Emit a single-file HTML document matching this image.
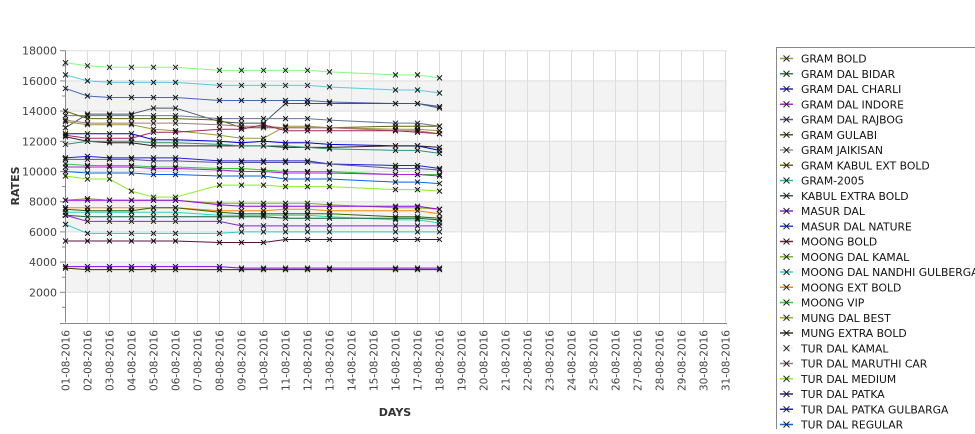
<!DOCTYPE html>
<html><head><meta charset="utf-8"><style>
body{margin:0;background:#fff;width:975px;height:429px;overflow:hidden;font-family:"Liberation Sans","DejaVu Sans",sans-serif}
</style></head><body>
<svg id="chart" width="975" height="429" xmlns="http://www.w3.org/2000/svg" style="font-family:'DejaVu Sans','Liberation Sans',sans-serif"></svg>
<script>
const dayLabels = ["01-08-2016","02-08-2016","03-08-2016","04-08-2016","05-08-2016","06-08-2016","07-08-2016","08-08-2016","09-08-2016","10-08-2016","11-08-2016","12-08-2016","13-08-2016","14-08-2016","15-08-2016","16-08-2016","17-08-2016","18-08-2016","19-08-2016","20-08-2016","21-08-2016","22-08-2016","23-08-2016","24-08-2016","25-08-2016","26-08-2016","27-08-2016","28-08-2016","29-08-2016","30-08-2016","31-08-2016"];
const dataDays = [0,1,2,3,4,5,7,8,9,10,11,12,15,16,17];
const yTicks = [2000,4000,6000,8000,10000,12000,14000,16000,18000];
const legendNames = ["GRAM BOLD","GRAM DAL BIDAR","GRAM DAL CHARLI","GRAM DAL INDORE","GRAM DAL RAJBOG","GRAM GULABI","GRAM JAIKISAN","GRAM KABUL EXT BOLD","GRAM-2005","KABUL EXTRA BOLD","MASUR DAL","MASUR DAL NATURE","MOONG BOLD","MOONG DAL KAMAL","MOONG DAL NANDHI GULBERGA","MOONG EXT BOLD","MOONG VIP","MUNG DAL BEST","MUNG EXTRA BOLD","TUR DAL KAMAL","TUR DAL MARUTHI CAR","TUR DAL MEDIUM","TUR DAL PATKA","TUR DAL PATKA GULBARGA","TUR DAL REGULAR"];
const legendColors = ["#999933","#228844","#2222dd","#aa22dd","#555599","#446600","#8899aa","#776600","#22bb99","#445566","#8822ee","#2244ee","#662244","#77bb22","#22ddbb","#ff8800","#33cc33","#99bb00","#333322","#eeeeee","#aa7777","#88ee22","#222288","#2222ee","#0066ee"];
const s1 = [17200,17000,16900,16900,16900,16900,16700,16700,16700,16700,16700,16600,16400,16400,16200];
const s2 = [16400,16000,15900,15900,15900,15900,15700,15700,15700,15700,15700,15600,15400,15400,15200];
const s3 = [15500,15000,14900,14900,14900,14900,14700,14700,14700,14700,14700,14600,14500,14500,14200];
const s4 = [12900,13800,13800,13800,14200,14200,13300,13200,13200,14500,14500,14500,14500,14500,14300];
const s5 = [13700,13700,13700,13700,13700,13700,13500,13500,13500,13500,13500,13400,13200,13200,13000];
const s6 = [14000,13500,13500,13500,13500,13500,13400,12900,12900,12900,12900,12900,13000,13000,13000];
const s7 = [13300,13100,13100,13100,12800,12700,12400,12200,12200,13000,13000,12900,12800,12800,12700];
const s8 = [13400,13200,13200,13200,13200,13200,13100,13000,13000,12900,12900,12900,12700,12700,12500];
const s9 = [12400,12200,12200,12200,12600,12600,12800,12800,13100,12700,12700,12700,12700,12600,12500];
const s10 = [12500,12500,12500,12500,12100,12100,12000,11900,12000,11900,11900,11800,11700,11700,11400];
const s11 = [12300,12000,11900,11900,11700,11700,11700,11700,11700,11600,11600,11600,11700,11700,11600];
const s12 = [11800,12000,12000,12000,11900,11900,11800,11700,11700,11700,11600,11500,11400,11400,11200];
const s13 = [10900,11000,10900,10900,10900,10900,10700,10700,10700,10700,10700,10500,10400,10400,10200];
const s14 = [10800,10800,10800,10800,10700,10700,10600,10600,10600,10600,10600,10500,10200,10200,10100];
const s15 = [10500,10400,10400,10400,10300,10300,10200,10200,10100,10000,10000,10000,9800,9800,9800];
const s16 = [10300,10300,10300,10300,10200,10200,10100,10000,10000,9900,9900,9900,9800,9800,9700];
const s17 = [10000,9900,9900,9900,9800,9800,9700,9700,9700,9500,9500,9500,9300,9300,9200];
const s18 = [9700,9500,9500,8700,8300,8300,9100,9100,9100,9000,9000,9000,8800,8800,8700];
const s19 = [8100,8200,8100,8100,8100,8100,7900,7900,7900,7900,7900,7800,7600,7600,7500];
const s20 = [8100,8100,8100,8100,8100,8100,7800,7700,7700,7700,7700,7700,7700,7700,7500];
const s21 = [7600,7600,7600,7600,7600,7600,7400,7400,7400,7500,7500,7400,7400,7400,7200];
const s22 = [7500,7400,7400,7400,7600,7600,7300,7200,7200,7200,7200,7200,7000,7000,6900];
const s23 = [7300,7300,7300,7300,7300,7300,7100,7100,7100,7100,7100,7000,6800,6800,6600];
const s24 = [7100,7000,7000,7000,7000,7000,7000,7000,7000,6900,6900,6900,6900,6900,6800];
const s25 = [7100,6700,6700,6700,6700,6700,6700,6400,6400,6400,6400,6400,6400,6400,6400];
const s26 = [6500,5900,5900,5900,5900,5900,5900,6000,6000,6000,6000,6000,6000,6000,6000];
const s27 = [5400,5400,5400,5400,5400,5400,5300,5300,5300,5500,5500,5500,5500,5500,5500];
const s28 = [3700,3700,3700,3700,3700,3700,3700,3600,3600,3600,3600,3600,3600,3600,3600];
const s29 = [3600,3500,3500,3500,3500,3500,3500,3500,3500,3500,3500,3500,3500,3500,3500];
const seriesValues = [s1,s2,s3,s4,s5,s6,s7,s8,s9,s10,s11,s12,s13,s14,s15,s16,s17,s18,s19,s20,s21,s22,s23,s24,s25,s26,s27,s28,s29];
const seriesColors = ["#80ff80","#55ccdd","#4466bb","#445566","#667799","#666600","#999933","#aa7777","#aa2266","#0000dd","#332222","#229977","#2222dd","#555599","#33cc33","#aa22dd","#0066ee","#88ee22","#88aa22","#9900ee","#ff8800","#336600","#22ddbb","#116633","#8822dd","#22cccc","#551144","#8800ee","#333300"];

const NS="http://www.w3.org/2000/svg";
const svg=document.getElementById('chart');
const L=65.5,R=727,T=50.7,B=322.5;
const x=d=>L+d*22;
const y=v=>B-v*(B-50.7)/18000;
function mk(tag,attrs,parent){const e=document.createElementNS(NS,tag);for(const k in attrs)e.setAttribute(k,attrs[k]);(parent||svg).appendChild(e);return e;}

const plot=mk('g',{});


mk('rect',{x:L,y:T,width:R-L,height:B-T,fill:'#fff'},plot);
for(let i=0;i<yTicks.length-1;i+=2){
  const b=mk('rect',{x:L,y:y(yTicks[i]+2000),width:R-L,height:y(yTicks[i])-y(yTicks[i]+2000),fill:'#f3f3f3'},plot);
  
  
}
yTicks.forEach(v=>{mk('line',{x1:L,x2:R,y1:y(v),y2:y(v),stroke:'#dddddd','stroke-width':1},plot);});
dayLabels.forEach((d,i)=>{mk('line',{x1:x(i),x2:x(i),y1:T,y2:B,stroke:'#dddddd','stroke-width':1},plot);});
mk('line',{x1:L,x2:L,y1:T,y2:B,stroke:'#888'});
mk('line',{x1:60,x2:R,y1:B+1,y2:B+1,stroke:'#888'});
for(let v=1000;v<=18000;v+=1000){mk('line',{x1:v%2000?62:60,x2:L,y1:y(v),y2:y(v),stroke:'#888'});}
yTicks.forEach(v=>{
  const t=mk('text',{x:57,y:y(v)+4,'text-anchor':'end','font-size':11,fill:'#444'});
  t.textContent=v;
  
  
});
dayLabels.forEach((d,i)=>{
  const t=mk('text',{x:0,y:0,'text-anchor':'end','font-size':10.5,fill:'#444',transform:`translate(${x(i)+4},330) rotate(-90)`});
  t.textContent=d;
  
  
});
const yt=mk('text',{x:0,y:0,'text-anchor':'middle','font-size':11,'font-weight':'bold',fill:'#333',transform:'translate(19,186) rotate(-90)'});
yt.textContent='RATES';


const xt=mk('text',{x:395,y:416,'text-anchor':'middle','font-size':11,'font-weight':'bold',fill:'#333'});
xt.textContent='DAYS';



seriesValues.forEach((vals,si)=>{
  const g=mk('g',{});
  
  
  const pts=vals.map((v,i)=>x(dataDays[i])+','+y(v)).join(' ');
  mk('polyline',{points:pts,fill:'none',stroke:seriesColors[si],'stroke-width':1},g);
  vals.forEach((v,i)=>{
    const cx=x(dataDays[i]),cy=y(v);
    const m=mk('path',{d:`M${cx-2.5},${cy-2.5}L${cx+2.5},${cy+2.5}M${cx-2.5},${cy+2.5}L${cx+2.5},${cy-2.5}`,stroke:'#111','stroke-width':1},g);
    
    
  });
});

const lg=mk('g',{});


mk('rect',{x:776.5,y:47.5,width:210,height:400,fill:'#fff',stroke:'#888'},lg);
legendNames.forEach((n,i)=>{
  const cy=58.5+i*15.25;
  const e=mk('g',{},lg);
  
  
  mk('line',{x1:780,x2:793,y1:cy,y2:cy,stroke:legendColors[i],'stroke-width':1.5},e);
  mk('path',{d:`M${783.5},${cy-3}L${789.5},${cy+3}M${783.5},${cy+3}L${789.5},${cy-3}`,stroke:'#222','stroke-width':1},e);
  const t=mk('text',{x:801,y:cy+4,'font-size':10.8,fill:'#111'},e);
  t.textContent=n;
});
</script>
</body></html>
